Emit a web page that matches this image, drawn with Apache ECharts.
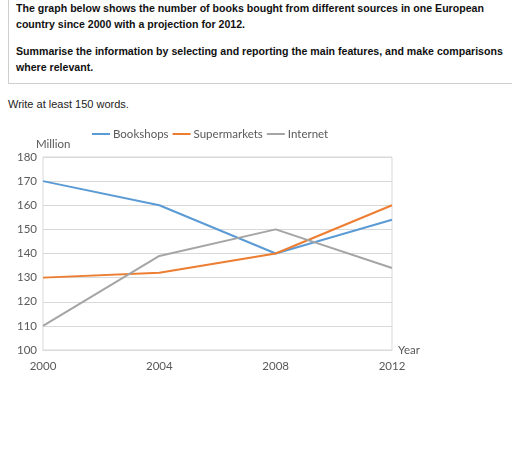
<!DOCTYPE html>
<html><head><meta charset="utf-8">
<script src="https://cdn.jsdelivr.net/npm/echarts@6/dist/echarts.min.js"></script>
<style>
html,body{margin:0;padding:0;background:#fff;width:512px;height:453px;overflow:hidden;}
#box{position:absolute;left:8px;top:-2px;width:600px;height:86px;border-left:1px solid #cfcfcf;border-bottom:1px solid #cfcfcf;box-sizing:border-box;font-family:"Liberation Sans",Arial,sans-serif;font-weight:bold;font-size:10.6px;color:#111;}
#box p{margin:0;position:absolute;left:7px;line-height:16px;white-space:nowrap;}
#write{position:absolute;left:8px;top:98px;font-family:"Liberation Sans",Arial,sans-serif;font-size:11px;color:#222;white-space:nowrap;}
#chart{position:absolute;left:0;top:0;width:512px;height:453px;}
</style></head>
<body>
<div id="box">
<p style="top:2px">The graph below shows the number of books bought from different sources in one European<br>country since 2000 with a projection for 2012.</p>
<p style="top:45px">Summarise the information by selecting and reporting the main features, and make comparisons<br>where relevant.</p>
</div>
<div id="write">Write at least 150 words.</div>
<div id="chart"></div>
<script>
var years = ['2000', '2004', '2008', '2012'];
var bookshops = [170, 160, 140, 154];
var supermarkets = [130, 132, 140, 160];
var internet = [110, 139, 150, 134];
var seriesNames = ['Bookshops', 'Supermarkets', 'Internet'];

var chart = echarts.init(document.getElementById('chart'));
var font = 'Lato, "Open Sans", sans-serif';
function mk(name, data, color) {
  return {name: name, type: 'line', data: data, symbol: 'none', smooth: false,
    lineStyle: {width: 2, color: color}, itemStyle: {color: color}};
}
chart.setOption({
  animation: false,
  textStyle: {fontFamily: font},
  legend: {
    top: 123, left: 87, itemWidth: 18, itemHeight: 2, itemGap: 4, icon: 'rect',
    textStyle: {color: '#595959', fontSize: 11.5, fontFamily: font, padding: [0, 0, 0, -2]},
    data: seriesNames
  },
  grid: {left: 43, right: 120, top: 157, bottom: 103, show: true, borderColor: '#d9d9d9', borderWidth: 1, containLabel: false},
  xAxis: {
    type: 'category', data: years, boundaryGap: false,
    name: 'Year', nameLocation: 'end', nameGap: 6,
    nameTextStyle: {color: '#595959', fontSize: 11.5, fontFamily: font, verticalAlign: 'middle', padding: [0, 0, 2, 0]},
    axisLine: {show: true, lineStyle: {color: '#d9d9d9'}},
    axisTick: {show: false},
    axisLabel: {color: '#595959', fontSize: 11.5, fontFamily: font, margin: 10}
  },
  yAxis: {
    type: 'value', min: 100, max: 180, interval: 10,
    name: 'Million', nameLocation: 'end', nameGap: 7,
    nameTextStyle: {color: '#595959', fontSize: 11.5, fontFamily: font, align: 'left', padding: [0, 0, 0, -7]},
    axisLine: {show: false}, axisTick: {show: false},
    splitLine: {lineStyle: {color: '#d9d9d9'}},
    axisLabel: {color: '#595959', fontSize: 11.5, fontFamily: font, margin: 6}
  },
  series: [
    mk(seriesNames[0], bookshops, '#5b9bd5'),
    mk(seriesNames[1], supermarkets, '#ed7d31'),
    mk(seriesNames[2], internet, '#a5a5a5')
  ]
});
</script>
</body></html>
